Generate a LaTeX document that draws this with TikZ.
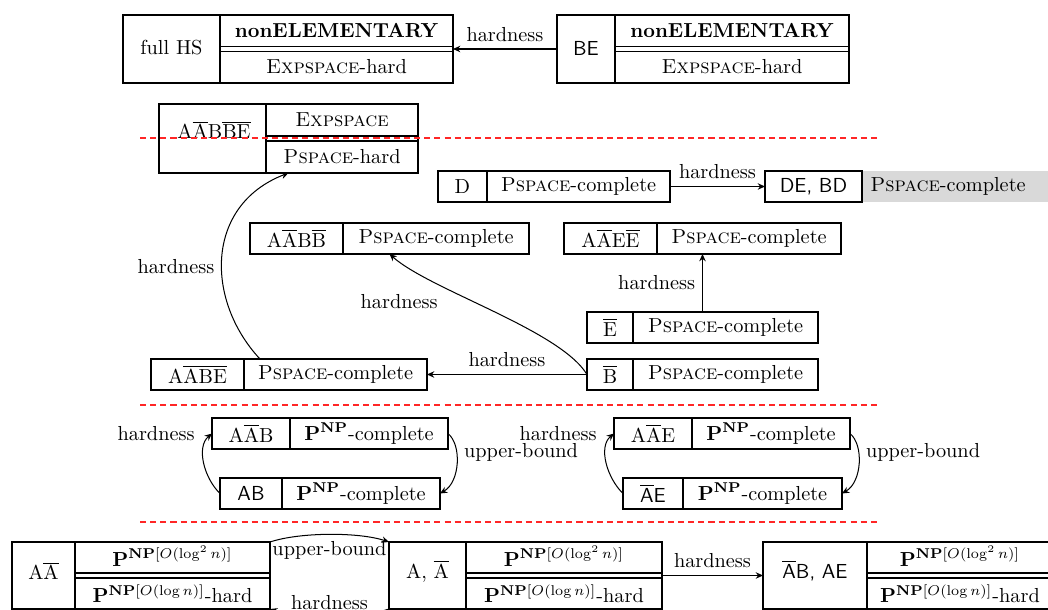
\documentclass[tikz,border=0pt]{standalone}
\usetikzlibrary{arrows.meta}
\begin{document}
\begin{tikzpicture}[x=0.4926pt,y=-0.4926pt,
  box/.style n args={4}{draw, line width=0.5pt, inner sep=0pt, outer sep=0pt,
    minimum width={(#3-#1)*0.4926pt}, minimum height={(#4-#2)*0.4926pt},
    at={({(#1+#3)/2},{(#2+#4)/2})}},
  txt/.style={inner sep=0pt},
  ln/.style={line width=0.5pt},
  conn/.style={-{Stealth[length=3.6pt,width=3.2pt]}, line width=0.5pt},
  sepline/.style={red!85, dash pattern=on 3pt off 2pt, line width=0.5pt}]
\useasboundingbox (0,0) rectangle (1048,610);
\clip (0,0) rectangle (1048,610);

% ---------- top row ----------
\node[box={123}{15}{453}{83}] (fullHS) {};
\draw[ln] (220,15) -- (220,83) (220,46.5) -- (453,46.5) (220,51.5) -- (453,51.5);
\node[txt] (fullHS-n) at (171.5,48) {full HS};
\node[txt] (fullHS-u) at (336.5,31) {\textbf{nonELEMENTARY}};
\node[txt] (fullHS-l) at (336.5,67) {\textsc{Expspace}-hard};

\node[box={557}{15}{849}{83}] (BE) {};
\draw[ln] (615,15) -- (615,83) (615,46.5) -- (849,46.5) (615,51.5) -- (849,51.5);
\node[txt] (BE-n) at (586,48) {\textsf{BE}};
\node[txt] (BE-u) at (732,31) {\textbf{nonELEMENTARY}};
\node[txt] (BE-l) at (732,67) {\textsc{Expspace}-hard};

% ---------- Expspace box ----------
\node[box={159}{104}{418}{173}] (AABBE) {};
\draw[ln] (266,104) -- (266,173) (266,136) -- (418,136) (266,141) -- (418,141);
\node[txt] (AABBE-n) at (214,130) {$\mathrm{A\overline{A}B\overline{B}\overline{E}}$};
\node[txt] (AABBE-u) at (342,120) {\textsc{Expspace}};
\node[txt] (AABBE-l) at (342,157) {\textsc{Pspace}-hard};

% ---------- D row ----------
\node[box={438}{171}{670}{202}] (D) {};
\draw[ln] (487,171) -- (487,202);
\node[txt] (D-n) at (462.5,186.5) {D};
\node[txt] (D-r) at (578.5,186.5) {\textsc{Pspace}-complete};

\fill[gray!30] (862,171) rectangle (1048,202);
\node[box={765}{171}{862}{202}] (DEBD) {};
\node[txt] (DEBD-n) at (813.5,186.5) {\textsf{DE, BD}};
\node[txt] (DEBD-r) at (948,186.5) {\textsc{Pspace}-complete};

% ---------- Pspace boxes ----------
\node[box={250}{223}{529}{254}] (AABB) {};
\draw[ln] (343,223) -- (343,254);
\node[txt] (AABB-n) at (296.5,238.5) {$\mathrm{A\overline{A}B\overline{B}}$};
\node[txt] (AABB-r) at (436,238.5) {\textsc{Pspace}-complete};

\node[box={564}{223}{841}{254}] (AAEE) {};
\draw[ln] (657,223) -- (657,254);
\node[txt] (AAEE-n) at (610.5,238.5) {$\mathrm{A\overline{A}E\overline{E}}$};
\node[txt] (AAEE-r) at (749,238.5) {\textsc{Pspace}-complete};

\node[box={587}{312}{818}{343}] (Ebar) {};
\draw[ln] (633,312) -- (633,343);
\node[txt] (Ebar-n) at (610,327.5) {$\mathrm{\overline{E}}$};
\node[txt] (Ebar-r) at (725.5,327.5) {\textsc{Pspace}-complete};

\node[box={587}{359}{818}{390}] (Bbar) {};
\draw[ln] (633,359) -- (633,390);
\node[txt] (Bbar-n) at (610,374.5) {$\mathrm{\overline{B}}$};
\node[txt] (Bbar-r) at (725.5,374.5) {\textsc{Pspace}-complete};

\node[box={151}{359}{427}{390}] (AABE) {};
\draw[ln] (244,359) -- (244,390);
\node[txt] (AABE-n) at (197.5,374.5) {$\mathrm{A\overline{A}\overline{B}\overline{E}}$};
\node[txt] (AABE-r) at (335.5,374.5) {\textsc{Pspace}-complete};

% ---------- P^NP boxes ----------
\node[box={212}{418}{448}{449}] (AAB) {};
\draw[ln] (290,418) -- (290,449);
\node[txt] (AAB-n) at (251,433.5) {$\mathrm{A\overline{A}B}$};
\node[txt] (AAB-r) at (369,433.5) {$\mathbf{P}^{\mathbf{NP}}$-complete};

\node[box={220}{478}{440}{509}] (AB) {};
\draw[ln] (282,478) -- (282,509);
\node[txt] (AB-n) at (251,493.5) {\textsf{AB}};
\node[txt] (AB-r) at (361,493.5) {$\mathbf{P}^{\mathbf{NP}}$-complete};

\node[box={614}{418}{850}{449}] (AAE) {};
\draw[ln] (692,418) -- (692,449);
\node[txt] (AAE-n) at (653,433.5) {$\mathrm{A\overline{A}E}$};
\node[txt] (AAE-r) at (771,433.5) {$\mathbf{P}^{\mathbf{NP}}$-complete};

\node[box={623}{478}{842}{509}] (AbarE) {};
\draw[ln] (683,478) -- (683,509);
\node[txt] (AbarE-n) at (653,493.5) {$\overline{\textsf{A}}$\textsf{E}};
\node[txt] (AbarE-r) at (762.5,493.5) {$\mathbf{P}^{\mathbf{NP}}$-complete};

% ---------- bottom row ----------
\node[box={12}{542}{270}{609}] (AA) {};
\draw[ln] (75,542) -- (75,609) (75,573) -- (270,573) (75,578) -- (270,578);
\node[txt] (AA-n) at (43.5,571) {$\mathrm{A\overline{A}}$};
\node[txt] (AA-u) at (172.5,556) {$\mathbf{P}^{\mathbf{NP}[O(\log^2 n)]}$};
\node[txt] (AA-l) at (172.5,594) {$\mathbf{P}^{\mathbf{NP}[O(\log n)]}$-hard};

\node[box={389}{542}{662}{609}] (AcA) {};
\draw[ln] (466,542) -- (466,609) (466,573) -- (662,573) (466,578) -- (662,578);
\node[txt] (AcA-n) at (427.5,571) {A, $\overline{\mathrm{A}}$};
\node[txt] (AcA-u) at (564,556) {$\mathbf{P}^{\mathbf{NP}[O(\log^2 n)]}$};
\node[txt] (AcA-l) at (564,594) {$\mathbf{P}^{\mathbf{NP}[O(\log n)]}$-hard};

\node[box={763}{542}{1053}{609}] (ABAE) {};
\draw[ln] (867,542) -- (867,609) (867,573) -- (1053,573) (867,578) -- (1053,578);
\node[txt] (ABAE-n) at (815,571) {$\overline{\textsf{A}}$\textsf{B, AE}};
\node[txt] (ABAE-u) at (960,556) {$\mathbf{P}^{\mathbf{NP}[O(\log^2 n)]}$};
\node[txt] (ABAE-l) at (960,594) {$\mathbf{P}^{\mathbf{NP}[O(\log n)]}$-hard};

% ---------- connectors ----------
\draw[conn] (BE.west) -- (fullHS.east) node[midway, above] {hardness};
\draw[conn] (D.east) -- (DEBD.west) node[midway, above] {hardness};
\draw[conn] (Ebar.north) -- (AAEE.south) node[midway, left] {hardness};
\draw[conn] (Bbar.west) -- (AABE.east) node[midway, above] {hardness};
\draw[conn] (Bbar.west) .. controls (560,330) and (430,290) .. (AABB.south)
  node[pos=0.7, below left] {hardness};
\draw[conn] ([xshift=-14.3pt]AABE.north) .. controls (205,300) and (205,205) .. (AABBE.south)
  node[pos=0.45, left] {hardness};

\draw[conn] (AB.west) .. controls +(-16,-15.5) and +(-16,13.5) .. (AAB.west)
  node[pos=1, left, xshift=-5pt] {hardness};
\draw[conn] (AAB.east) .. controls +(14,11.5) and +(20,-11.5) .. (AB.east)
  node[pos=0.35, right] {upper-bound};
\draw[conn] (AbarE.west) .. controls +(-16,-15.5) and +(-16,13.5) .. (AAE.west)
  node[pos=1, left, xshift=-5pt] {hardness};
\draw[conn] (AAE.east) .. controls +(14,11.5) and +(20,-11.5) .. (AbarE.east)
  node[pos=0.35, right] {upper-bound};

\draw[conn] (AA.north east) .. controls +(30,-10) and +(-30,-10) .. (AcA.north west)
  node[midway, below] {upper-bound};
\draw[conn] (AcA.south west) .. controls +(-30,10) and +(30,10) .. (AA.south east)
  node[midway, above] {hardness};
\draw[conn] (AcA.east) -- (ABAE.west) node[midway, above] {hardness};

% ---------- separators ----------
\draw[sepline] (140,138) -- (877,138);
\draw[sepline] (140,405) -- (877,405);
\draw[sepline] (140,522) -- (877,522);
\end{tikzpicture}
\end{document}
